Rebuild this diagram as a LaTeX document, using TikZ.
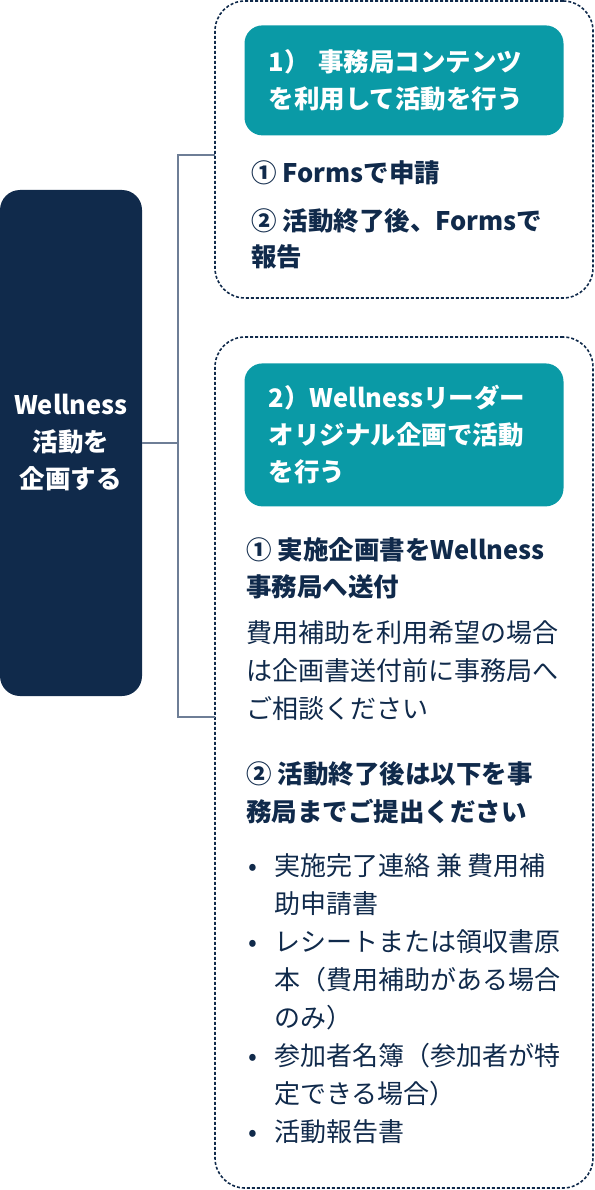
\documentclass[tikz,border=0pt]{standalone}
\usepackage{fontspec}
\setmainfont{Noto Sans CJK JP}
\usetikzlibrary{positioning}

\definecolor{navy}{HTML}{102A4B}
\definecolor{headteal}{HTML}{0A9AA6}
\definecolor{linkgray}{HTML}{6E7E96}

\newcommand{\bul}{\makebox[26pt][l]{•}}
\newcommand{\ind}{\hspace*{26pt}}

\begin{document}
\begin{tikzpicture}[x=1pt,y=-1pt,
		lead box/.style={fill=navy,rounded corners=20pt,text=white,align=center,
			font=\bfseries\fontsize{25.5}{37}\selectfont,
			minimum width=142pt,minimum height=506pt,inner sep=0pt},
		group box/.style={draw=navy,line width=1.6pt,dash pattern=on 3pt off 2pt,
			rounded corners=30pt,minimum width=378pt,inner sep=0pt},
		head box/.style={fill=headteal,rounded corners=18pt,text=white,align=left,
			font=\bfseries\fontsize{25.5}{37}\selectfont,
			text width=271pt,inner xsep=24pt,inner ysep=0pt},
		body text/.style={anchor=base west,inner sep=0pt,text=navy,align=left,
			font=\fontsize{26}{37.7}\selectfont},
		link/.style={draw=linkgray,line width=1.5pt}]
		
		\useasboundingbox (0,0) rectangle (594,1190);
		
		\node[lead box] (lead) at (71,443) {Wellness\\活動を\\企画する};
		
		\node[group box,minimum height=297pt] (grp1) at (404,149.5) {};
		\node[group box,minimum height=851pt] (grp2) at (404,762.5) {};
		
		\node[head box,minimum height=110pt,below=25pt of grp1.north] (head1)
		{1）\ 事務局コンテンツ\\を利用して活動を行う};
		\node[head box,minimum height=143pt,below=27pt of grp2.north] (head2)
		{2）Wellnessリーダー\\オリジナル企画で活動\\を行う};
		
		% box 1 (base = last line)
		\node[body text,font=\bfseries\fontsize{25.5}{36}\selectfont] (s1a) at (251,183)
		{① Formsで申請};
		\node[body text,font=\bfseries\fontsize{25.5}{36}\selectfont] (s1b) at (251,266)
		{② 活動終了後、Formsで\\報告};
		
		% box 2
		\node[body text,font=\bfseries\fontsize{25.5}{37}\selectfont] (s2a) at (246,596)
		{① 実施企画書をWellness\\事務局へ送付};
		\node[body text] (s2b) at (246,718)
		{費用補助を利用希望の場合\\は企画書送付前に事務局へ\\ご相談ください};
		\node[body text,font=\bfseries\fontsize{25.5}{38}\selectfont] (s2c) at (246,821)
		{② 活動終了後は以下を事\\務局までご提出ください};
		\node[body text,font=\fontsize{26}{38}\selectfont] (s2d) at (248,1141)
		{\bul 実施完了連絡 兼 費用補\\\ind 助申請書\\
			\bul レシートまたは領収書原\\\ind 本（費用補助がある場合\\\ind のみ）\\
			\bul 参加者名簿（参加者が特\\\ind 定できる場合）\\
			\bul 活動報告書};
		
		% connectors
		\coordinate (fork) at (178,443);
		\coordinate (in1) at (215,155);
		\coordinate (in2) at (215,717);
		\draw[link] (lead.east) -- (fork);
		\draw[link] (in1) -| (fork) |- (in2);
\end{tikzpicture}
\end{document}
